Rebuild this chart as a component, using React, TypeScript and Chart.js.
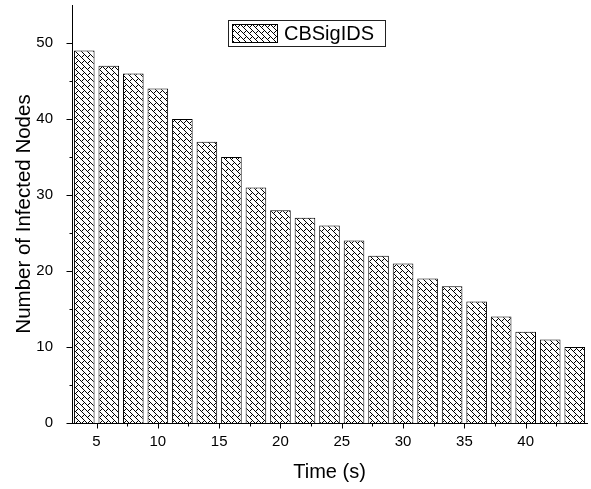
import React, { useEffect, useRef } from 'react';
import { Chart, registerables } from 'chart.js';

Chart.register(...registerables);

const times = [4, 6, 8, 10, 12, 14, 16, 18, 20, 22, 24, 26, 28, 30, 32, 34, 36, 38, 40, 42, 44];
const infectedNodes = [49, 47, 46, 44, 40, 37, 35, 31, 28, 27, 26, 24, 22, 21, 19, 18, 16, 14, 12, 11, 10];
const xTickValues = [5, 10, 15, 20, 25, 30, 35, 40];
const xMinorTickValues = [7.5, 12.5, 17.5, 22.5, 27.5, 32.5, 37.5, 42.5];
const yTickValues = [0, 10, 20, 30, 40, 50];
const yMinorTickValues = [5, 15, 25, 35, 45];
const seriesLabel = 'CBSigIDS';
const xTitle = 'Time (s)';
const yTitle = 'Number of Infected Nodes';

const FONT = "'Liberation Sans', Arial, sans-serif";

function makePattern(ctx: CanvasRenderingContext2D): CanvasPattern | string {
  const tile = document.createElement('canvas');
  tile.width = 12;
  tile.height = 12;
  const t = tile.getContext('2d');
  if (!t) return '#fff';
  t.fillStyle = '#fff';
  t.fillRect(0, 0, 12, 12);
  t.fillStyle = '#000';
  for (let x = 0; x < 12; x++) {
    for (let y = 0; y < 12; y++) {
      const d = (((y - x) % 12) + 12) % 12;
      const s = (((x + y) % 12) + 12) % 12;
      if (d % 6 === 0 || (s === 0 && d <= 6) || (s === 6 && d >= 6)) {
        t.fillRect(x, y, 1, 1);
      }
    }
  }
  return ctx.createPattern(tile, 'repeat') || '#fff';
}

const tickMarksPlugin = {
  id: 'tickMarks',
  afterDraw(chart: any) {
    const { ctx } = chart;
    const xs = chart.scales.x;
    const ys = chart.scales.y;
    ctx.save();
    ctx.strokeStyle = '#000';
    ctx.lineWidth = 1;
    const xb = Math.round(xs.top) + 0.5;
    const drawX = (v: number, len: number) => {
      const px = Math.round(xs.getPixelForValue(v)) + 0.5;
      ctx.beginPath();
      ctx.moveTo(px, xb - 0.5);
      ctx.lineTo(px, xb + len);
      ctx.stroke();
    };
    xTickValues.forEach((v) => drawX(v, 5));
    xMinorTickValues.forEach((v) => drawX(v, 3));
    const yr = Math.round(ys.right) + 0.5;
    const drawY = (v: number, len: number) => {
      const py = Math.round(ys.getPixelForValue(v)) + 0.5;
      ctx.beginPath();
      ctx.moveTo(yr + 0.5, py);
      ctx.lineTo(yr - len, py);
      ctx.stroke();
    };
    yTickValues.forEach((v) => drawY(v, 6));
    yMinorTickValues.forEach((v) => drawY(v, 3));
    ctx.restore();
  },
};

const boxedLegendPlugin = {
  id: 'boxedLegend',
  afterDraw(chart: any) {
    const { ctx } = chart;
    const ds = chart.data.datasets[0];
    ctx.save();
    const bx = 228.5, by = 20.5, bw = 157, bh = 26;
    ctx.fillStyle = '#fff';
    ctx.fillRect(bx, by, bw, bh);
    ctx.strokeStyle = '#222';
    ctx.lineWidth = 1;
    ctx.strokeRect(bx, by, bw, bh);
    ctx.fillStyle = ds.backgroundColor;
    ctx.fillRect(232, 24, 46, 19);
    ctx.strokeStyle = '#000';
    ctx.strokeRect(232.5, 24.5, 45, 18);
    ctx.fillStyle = '#000';
    ctx.font = `20px ${FONT}`;
    ctx.textBaseline = 'middle';
    ctx.textAlign = 'left';
    ctx.fillText(ds.label, 284, 34);
    ctx.restore();
  },
};

export default function App() {
  const canvasRef = useRef<HTMLCanvasElement | null>(null);

  useEffect(() => {
    const canvas = canvasRef.current;
    if (!canvas) return;
    const ctx = canvas.getContext('2d');
    if (!ctx) return;
    const pattern = makePattern(ctx);

    const chart = new Chart(ctx, {
      type: 'bar',
      data: {
        datasets: [
          {
            label: seriesLabel,
            data: times.map((t, i) => ({ x: t, y: infectedNodes[i] })),
            backgroundColor: pattern as any,
            borderColor: '#000',
            borderWidth: 1,
            barPercentage: 0.84,
            categoryPercentage: 1,
          },
        ],
      },
      options: {
        responsive: false,
        animation: false,
        layout: { padding: { top: 5, right: 4, left: 0, bottom: 0 } },
        plugins: {
          legend: { display: false },
          tooltip: { enabled: false },
        },
        scales: {
          x: {
            type: 'linear',
            min: 3,
            max: 45,
            offset: false,
            grid: { display: false, drawTicks: false },
            border: { display: true, color: '#000', width: 1 },
            afterBuildTicks: (scale: any) => {
              scale.ticks = xTickValues.map((v) => ({ value: v }));
            },
            afterFit: (scale: any) => {
              scale.height = 66;
              scale.paddingLeft = 0;
              scale.paddingRight = 0;
            },
            ticks: {
              color: '#000',
              font: { family: FONT, size: 15 },
              padding: 10,
              maxRotation: 0,
              autoSkip: false,
            },
            title: {
              display: true,
              text: xTitle,
              color: '#000',
              font: { family: FONT, size: 20 },
              padding: { top: 0, bottom: 5 },
            },
          },
          y: {
            type: 'linear',
            min: 0,
            max: 55,
            grid: { display: false, drawTicks: false },
            border: { display: true, color: '#000', width: 1 },
            afterBuildTicks: (scale: any) => {
              scale.ticks = yTickValues.map((v) => ({ value: v }));
            },
            afterFit: (scale: any) => {
              scale.width = 72;
              scale.paddingTop = 0;
              scale.paddingBottom = 0;
            },
            ticks: {
              color: '#000',
              font: { family: FONT, size: 15 },
              padding: 19,
              autoSkip: false,
            },
            title: {
              display: true,
              text: yTitle,
              color: '#000',
              font: { family: FONT, size: 20.5 },
              padding: { top: 12, bottom: 0 },
            },
          },
        },
      },
      plugins: [tickMarksPlugin, boxedLegendPlugin],
    });

    return () => {
      chart.destroy();
    };
  }, []);

  return (
    <div style={{ position: 'absolute', left: 0, top: 0, width: 591, height: 489, background: '#fff' }}>
      <canvas ref={canvasRef} width={591} height={489} style={{ display: 'block', width: 591, height: 489 }} />
    </div>
  );
}
